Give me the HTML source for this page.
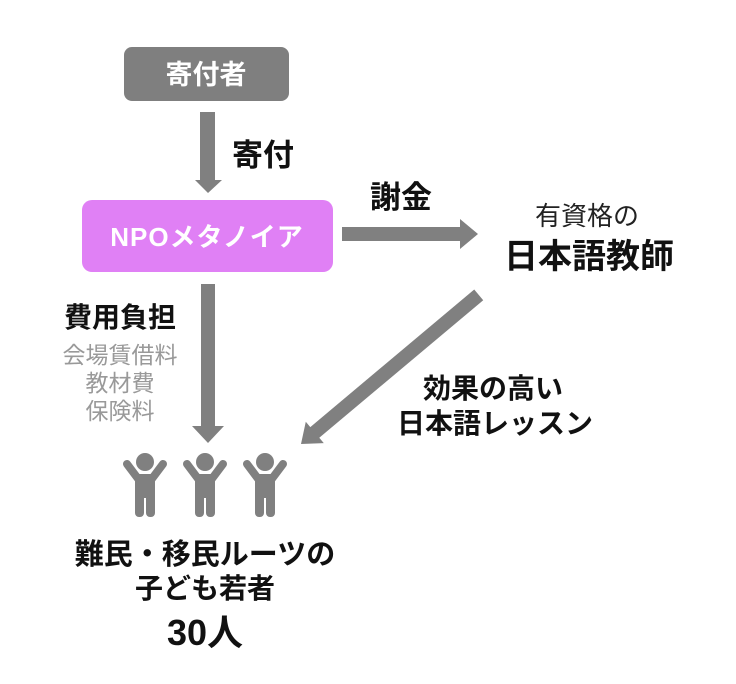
<!DOCTYPE html>
<html><head><meta charset="utf-8"><style>
html,body{margin:0;padding:0;background:#fff;}
svg{display:block;}
text{font-family:"Liberation Sans","Noto Sans CJK JP",sans-serif;}
</style></head><body>
<svg width="736" height="684" viewBox="0 0 736 684" xmlns="http://www.w3.org/2000/svg">
<defs>
<g id="p" fill="#808080">
<circle cx="0" cy="462" r="9"/>
<rect x="-10" y="474" width="20" height="24" rx="4"/>
<rect x="-10" y="490" width="9" height="27" rx="4"/>
<rect x="1" y="490" width="9" height="27" rx="4"/>
<line x1="-6" y1="480" x2="-18" y2="464" stroke="#808080" stroke-width="8" stroke-linecap="round"/>
<line x1="6" y1="480" x2="18" y2="464" stroke="#808080" stroke-width="8" stroke-linecap="round"/>
</g>
</defs>
<rect x="124" y="47" width="165" height="54" rx="8" fill="#7f7f7f"/>
<text x="206" y="84" text-anchor="middle" font-size="27" font-weight="bold" fill="#fff">寄付者</text>
<polygon points="200,112 215,112 215,180 222,180 208,193 195,180 200,180" fill="#808080"/>
<text x="232" y="166" font-size="31" font-weight="bold" fill="#111">寄付</text>
<rect x="82" y="200" width="251" height="72" rx="10" fill="#e080f5"/>
<text x="207" y="246" text-anchor="middle" font-size="26" font-weight="bold" fill="#fff" letter-spacing="1">NPOメタノイア</text>
<polygon points="342,227 460,227 460,219 478,234 460,249 460,241 342,241" fill="#808080"/>
<text x="370" y="208" font-size="31" font-weight="bold" fill="#111">謝金</text>
<text x="587" y="225" text-anchor="middle" font-size="26" fill="#222">有資格の</text>
<text x="589" y="268" text-anchor="middle" font-size="34" font-weight="bold" fill="#111">日本語教師</text>
<polygon points="201,284 215,284 215,426 224,426 208,443 192,426 201,426" fill="#808080"/>
<text x="120" y="327" text-anchor="middle" font-size="28" font-weight="bold" fill="#111">費用負担</text>
<text x="120" y="363" text-anchor="middle" font-size="23" fill="#999">会場賃借料</text>
<text x="120" y="391" text-anchor="middle" font-size="23" fill="#999">教材費</text>
<text x="120" y="419" text-anchor="middle" font-size="23" fill="#999">保険料</text>
<g transform="translate(301,444) rotate(-40)">
<polygon points="0,0 18,-14 18,-7 232,-7 232,7 18,7 18,14" fill="#808080"/>
</g>
<text x="493" y="398" text-anchor="middle" font-size="28" font-weight="bold" fill="#111">効果の高い</text>
<text x="495" y="433" text-anchor="middle" font-size="28" font-weight="bold" fill="#111">日本語レッスン</text>
<use href="#p" x="145"/>
<use href="#p" x="205"/>
<use href="#p" x="265"/>
<text x="205" y="564" text-anchor="middle" font-size="29" font-weight="bold" fill="#111">難民・移民ルーツの</text>
<text x="205" y="598" text-anchor="middle" font-size="28" font-weight="bold" fill="#111">子ども若者</text>
<text x="205" y="645" text-anchor="middle" font-size="36" font-weight="bold" fill="#111">30人</text>
</svg>
</body></html>
